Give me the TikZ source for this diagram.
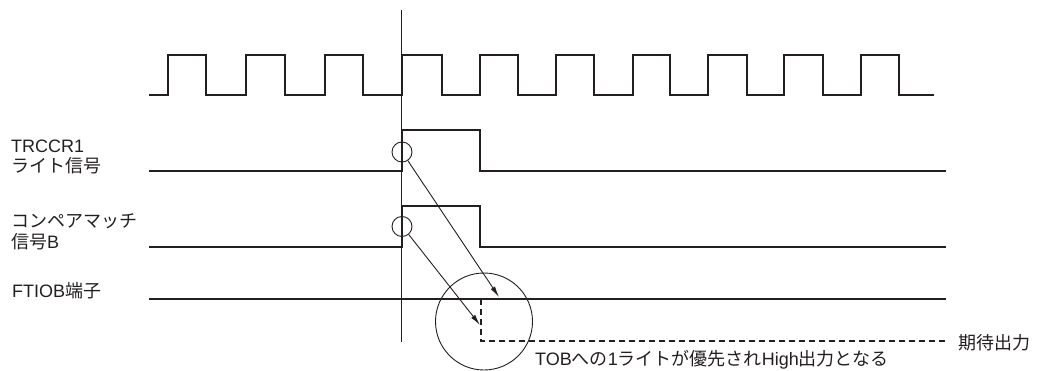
\documentclass[tikz,border=0pt]{standalone}
\usepackage{fontspec}
\setmainfont{Liberation Sans}
\newfontfamily\jp{Noto Sans CJK JP}
\usetikzlibrary{arrows.meta}
\definecolor{ink}{RGB}{35,31,32}
\begin{document}
\begin{tikzpicture}[x=1pt,y=-1pt,
  sig/.style={draw=ink, line width=2pt, line join=miter},
  thinline/.style={draw=ink, line width=0.9pt},
  lbl/.style={anchor=base west, inner sep=0pt, text=ink, font=\fontsize{18}{21}\selectfont},
  arr/.style={draw=ink, line width=0.9pt, -{Latex[length=11pt,width=5pt]}},
  dsh/.style={draw=ink, line width=2pt, dash pattern=on 6pt off 4pt},
  ring/.style={circle, draw=ink, line width=0.9pt, inner sep=0pt}]
\useasboundingbox (0,0) rectangle (1038,371);

% clock
\draw[sig] (149,95) -- (168,95) -- (168,55) -- (206,55) -- (206,95)
  -- (246,95) -- (246,55) -- (285,55) -- (285,95)
  -- (325,95) -- (325,55) -- (363,55) -- (363,95)
  -- (402,95) -- (402,55) -- (442,55) -- (442,95)
  -- (480,95) -- (480,55) -- (518,55) -- (518,95)
  -- (556,95) -- (556,55) -- (594,55) -- (594,95)
  -- (633,95) -- (633,55) -- (670,55) -- (670,95)
  -- (708,95) -- (708,55) -- (747,55) -- (747,95)
  -- (784,95) -- (784,55) -- (823,55) -- (823,95)
  -- (861,95) -- (861,55) -- (899,55) -- (899,95) -- (934,95);

% vertical reference line
\coordinate (vtop) at (401,10);
\coordinate (vbot) at (401,342);
\draw[thinline] (vtop) -- (vbot);

% TRCCR1 write signal
\draw[sig] (149,171) -- (402,171) -- (402,130) -- (480,130) -- (480,171) -- (946,171);
% compare match B
\draw[sig] (149,247) -- (402,247) -- (402,206) -- (480,206) -- (480,247) -- (946,247);
% FTIOB
\draw[sig] (149,299) -- (946,299);
\draw[dsh] (481,299) -- (481,341) -- (945,341);

% labels
\node[lbl] (l1a) at (11,152.7) {TRCCR1};
\node[lbl] (l1b) at (11,173) {\jp ライト信号};
\node[lbl] (l2a) at (11,227.5) {\jp コンペアマッチ};
\node[lbl] (l2b) at (11,249) {{\jp 信号}B};
\node[lbl] (l3) at (12,298) {FTIOB{\jp 端子}};
\node[lbl] (exp) at (958,349) {\jp 期待出力};
\node[lbl] (note) at (535,365) {TOB{\jp への}1{\jp ライトが優先され}High{\jp 出力となる}};

% circles
\node[ring, minimum size=20pt] (c1) at (402,152) {};
\node[ring, minimum size=20pt] (c2) at (402,226.5) {};
\node[ring, minimum size=97pt] (c3) at (484,321.5) {};

% arrows
\coordinate (t1) at (499,297);
\coordinate (t2) at (480,325);
\draw[arr] (c1.-56) -- (t1);
\draw[arr] (c2.-50) -- (t2);
\end{tikzpicture}
\end{document}
